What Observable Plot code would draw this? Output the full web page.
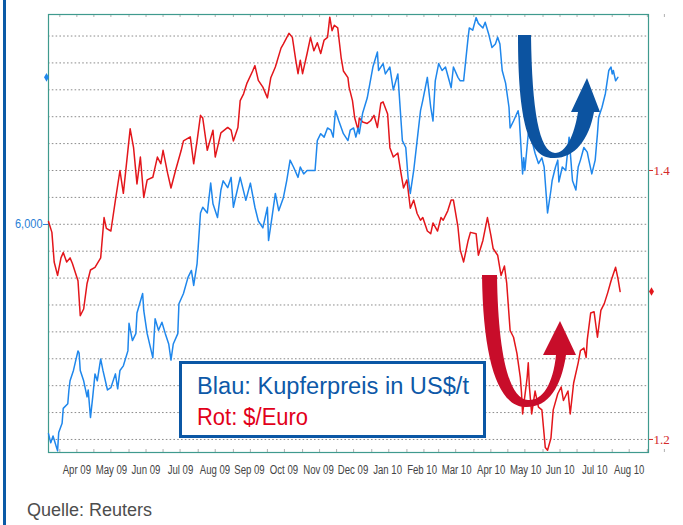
<!DOCTYPE html>
<html><head><meta charset="utf-8">
<script src="https://cdn.jsdelivr.net/npm/d3@7"></script>
<script src="https://cdn.jsdelivr.net/npm/@observablehq/plot@0.6"></script>
<style>
body{margin:0;background:#fff;}
#wrap{position:relative;width:683px;height:525px;overflow:hidden;font-family:"Liberation Sans",Arial,sans-serif;background:#fff;}
#bar{position:absolute;left:3px;top:0;width:3px;height:525px;background:#0b5aa6;}
#chart{position:absolute;left:0;top:0;}
#caption{position:absolute;left:27px;top:500px;font-size:18px;line-height:20px;color:#4d4d4d;}
</style></head><body>
<div id="wrap"><div id="chart"></div><div id="bar"></div><div id="caption">Quelle: Reuters</div></div>
<script>
// ---- DATA ----
// EUR/USD ($ per Euro), right axis
const euroSeries = [
["2009-03-22",1.362],["2009-03-25",1.354],["2009-03-27",1.332],["2009-03-30",1.322],["2009-04-02",1.335],["2009-04-04",1.339],["2009-04-07",1.332],["2009-04-10",1.335],["2009-04-12",1.331],["2009-04-17",1.318],["2009-04-19",1.292],["2009-04-22",1.297],["2009-04-25",1.316],["2009-04-28",1.326],
["2009-05-02",1.328],["2009-05-07",1.335],["2009-05-10",1.365],["2009-05-12",1.357],["2009-05-16",1.355],["2009-05-20",1.378],["2009-05-24",1.400],["2009-05-27",1.383],["2009-05-31",1.415],
["2009-06-02",1.431],["2009-06-05",1.417],["2009-06-08",1.390],["2009-06-11",1.410],["2009-06-14",1.380],["2009-06-17",1.393],["2009-06-22",1.395],["2009-06-26",1.410],["2009-06-29",1.405],
["2009-07-01",1.415],["2009-07-05",1.398],["2009-07-08",1.387],["2009-07-12",1.400],["2009-07-17",1.415],["2009-07-19",1.422],["2009-07-25",1.425],["2009-07-28",1.405],["2009-07-31",1.422],
["2009-08-03",1.441],["2009-08-05",1.439],["2009-08-09",1.415],["2009-08-14",1.430],["2009-08-16",1.410],["2009-08-21",1.428],["2009-08-27",1.432],["2009-08-30",1.430],
["2009-09-01",1.422],["2009-09-05",1.432],["2009-09-07",1.452],["2009-09-10",1.457],["2009-09-13",1.465],["2009-09-18",1.474],["2009-09-20",1.478],["2009-09-23",1.467],["2009-09-27",1.462],
["2009-10-01",1.454],["2009-10-04",1.469],["2009-10-08",1.477],["2009-10-13",1.491],["2009-10-15",1.494],["2009-10-20",1.502],["2009-10-23",1.499],["2009-10-26",1.482],["2009-10-28",1.472],["2009-10-30",1.482],
["2009-11-01",1.472],["2009-11-05",1.487],["2009-11-08",1.499],["2009-11-11",1.489],["2009-11-14",1.495],["2009-11-17",1.487],["2009-11-20",1.497],["2009-11-23",1.499],["2009-11-25",1.514],["2009-11-27",1.504],["2009-11-29",1.508],
["2009-12-02",1.506],["2009-12-05",1.484],["2009-12-07",1.474],["2009-12-11",1.469],["2009-12-12",1.462],["2009-12-15",1.452],["2009-12-17",1.439],["2009-12-20",1.430],["2009-12-21",1.439],["2009-12-24",1.436],["2009-12-28",1.435],["2009-12-31",1.437],
["2010-01-03",1.441],["2010-01-06",1.432],["2010-01-09",1.450],["2010-01-11",1.451],["2010-01-15",1.442],["2010-01-17",1.417],["2010-01-20",1.410],["2010-01-24",1.413],["2010-01-26",1.402],["2010-01-29",1.387],
["2010-02-01",1.393],["2010-02-04",1.372],["2010-02-07",1.378],["2010-02-10",1.368],["2010-02-13",1.363],["2010-02-15",1.365],["2010-02-19",1.355],["2010-02-22",1.353],["2010-02-24",1.361],["2010-02-28",1.355],
["2010-03-03",1.365],["2010-03-05",1.363],["2010-03-09",1.370],["2010-03-12",1.378],["2010-03-14",1.378],["2010-03-18",1.358],["2010-03-20",1.341],["2010-03-23",1.332],["2010-03-27",1.348],["2010-03-29",1.354],
["2010-04-03",1.353],["2010-04-05",1.337],["2010-04-09",1.348],["2010-04-13",1.365],["2010-04-16",1.352],["2010-04-18",1.342],["2010-04-22",1.337],["2010-04-25",1.322],["2010-04-28",1.329],["2010-04-30",1.316],
["2010-05-03",1.281],["2010-05-06",1.276],["2010-05-09",1.264],["2010-05-12",1.246],["2010-05-13",1.235],["2010-05-14",1.219],["2010-05-18",1.246],["2010-05-19",1.257],["2010-05-20",1.239],["2010-05-22",1.219],["2010-05-25",1.236],["2010-05-28",1.224],["2010-05-31",1.222],
["2010-06-03",1.194],["2010-06-05",1.192],["2010-06-08",1.201],["2010-06-10",1.222],["2010-06-14",1.234],["2010-06-17",1.239],["2010-06-19",1.229],["2010-06-23",1.236],["2010-06-25",1.219],["2010-06-28",1.242],
["2010-07-02",1.257],["2010-07-04",1.266],["2010-07-07",1.268],["2010-07-09",1.261],["2010-07-10",1.274],["2010-07-13",1.294],["2010-07-16",1.295],["2010-07-19",1.276],["2010-07-22",1.296],["2010-07-25",1.301],["2010-07-28",1.309],["2010-07-31",1.318],
["2010-08-02",1.323],["2010-08-04",1.328],["2010-08-06",1.320],["2010-08-08",1.310]
];
// Copper price in US$/t, left axis
const copperSeries = [
["2009-03-22",4180],["2009-03-24",4100],["2009-03-26",4160],["2009-03-30",4030],["2009-03-31",4190],["2009-04-03",4270],["2009-04-04",4400],["2009-04-08",4440],["2009-04-09",4560],["2009-04-10",4640],["2009-04-13",4730],["2009-04-17",4900],["2009-04-18",4880],["2009-04-19",4730],["2009-04-22",4640],["2009-04-25",4500],["2009-04-26",4560],["2009-04-28",4320],["2009-04-30",4500],
["2009-05-02",4700],["2009-05-04",4640],["2009-05-07",4830],["2009-05-09",4730],["2009-05-13",4560],["2009-05-16",4580],["2009-05-20",4700],["2009-05-22",4570],["2009-05-24",4730],["2009-05-27",4770],["2009-05-31",4900],
["2009-06-01",5140],["2009-06-04",4990],["2009-06-07",5050],["2009-06-08",5230],["2009-06-13",5400],["2009-06-14",5250],["2009-06-17",5050],["2009-06-22",4840],["2009-06-24",5180],["2009-06-27",5080],["2009-06-30",5150],
["2009-07-03",5050],["2009-07-06",4960],["2009-07-08",4820],["2009-07-10",4960],["2009-07-14",5050],["2009-07-15",5310],["2009-07-19",5400],["2009-07-23",5540],["2009-07-26",5600],["2009-07-28",5470],["2009-07-31",5660],
["2009-08-03",6100],["2009-08-05",6150],["2009-08-09",6100],["2009-08-12",6360],["2009-08-14",6180],["2009-08-18",6060],["2009-08-21",6300],["2009-08-23",6380],["2009-08-27",6320],["2009-08-30",6410],
["2009-09-01",6150],["2009-09-07",6410],["2009-09-12",6210],["2009-09-16",6360],["2009-09-20",6150],["2009-09-23",6030],["2009-09-27",5970],
["2009-10-01",6150],["2009-10-02",5860],["2009-10-05",6060],["2009-10-08",6270],["2009-10-11",6120],["2009-10-15",6230],["2009-10-18",6380],["2009-10-21",6560],["2009-10-24",6500],["2009-10-28",6410],["2009-10-30",6500],
["2009-11-02",6440],["2009-11-05",6470],["2009-11-12",6470],["2009-11-14",6730],["2009-11-17",6790],["2009-11-20",6760],["2009-11-23",6840],["2009-11-26",6820],["2009-11-28",6760],["2009-11-30",6990],
["2009-12-03",6900],["2009-12-07",6790],["2009-12-11",6730],["2009-12-13",6820],["2009-12-16",6840],["2009-12-18",6760],["2009-12-20",6840],["2009-12-21",6790],["2009-12-24",6970],["2009-12-28",7100],
["2010-01-02",7370],["2010-01-06",7500],["2010-01-07",7340],["2010-01-11",7400],["2010-01-13",7310],["2010-01-17",7370],["2010-01-20",7170],["2010-01-24",7310],["2010-01-26",7020],["2010-01-28",6730],["2010-01-31",6670],
["2010-02-02",6410],["2010-02-04",6270],["2010-02-07",6470],["2010-02-10",6730],["2010-02-13",6990],["2010-02-15",7080],["2010-02-19",7280],["2010-02-22",7020],["2010-02-24",6900],["2010-02-26",7250],
["2010-03-01",7400],["2010-03-04",7340],["2010-03-07",7370],["2010-03-12",7190],["2010-03-14",7370],["2010-03-18",7280],["2010-03-20",7250],["2010-03-23",7250],["2010-03-27",7630],["2010-03-28",7710],["2010-03-31",7690],
["2010-04-03",7800],["2010-04-05",7750],["2010-04-09",7710],["2010-04-11",7760],["2010-04-14",7660],["2010-04-17",7540],["2010-04-20",7570],["2010-04-22",7630],["2010-04-24",7570],["2010-04-26",7340],["2010-04-29",7230],
["2010-05-02",7020],["2010-05-03",6840],["2010-05-06",6900],["2010-05-10",6990],["2010-05-11",6930],["2010-05-14",6440],["2010-05-15",6580],["2010-05-16",6470],["2010-05-19",6790],["2010-05-23",6700],["2010-05-25",6620],["2010-05-28",6530],["2010-05-31",6580],
["2010-06-02",6500],["2010-06-05",6100],["2010-06-08",6300],["2010-06-09",6380],["2010-06-12",6500],["2010-06-14",6560],["2010-06-15",6370],["2010-06-18",6500],["2010-06-21",6470],["2010-06-24",6760],["2010-06-27",6380],["2010-06-30",6300],
["2010-07-02",6500],["2010-07-04",6560],["2010-07-07",6670],["2010-07-10",6630],["2010-07-11",6580],["2010-07-14",6440],["2010-07-17",6560],["2010-07-19",6790],["2010-07-20",6930],["2010-07-23",7020],["2010-07-26",7140],["2010-07-29",7340],["2010-07-31",7370],
["2010-08-01",7310],["2010-08-02",7340],["2010-08-04",7250],["2010-08-06",7280]
];
const monthLabels = ["Apr 09","May 09","Jun 09","Jul 09","Aug 09","Sep 09","Oct 09","Nov 09","Dec 09","Jan 10","Feb 10","Mar 10","Apr 10","May 10","Jun 10","Jul 10","Aug 10"];
const leftTicks = [6000];
const rightTicks = [1.4, 1.2];
const gridValues = [1.20,1.22,1.24,1.26,1.28,1.30,1.32,1.34,1.36,1.38,1.40,1.42,1.44,1.46,1.48,1.50];
const xDomain = ["2009-03-22","2010-09-02"];
const yDomain = [1.1903, 1.516];       // $/Euro (right axis)
const copperDomain = [4016, 7827];     // US$/t (left axis), same vertical extent

// ---- styles ----
const lineBlue = "#1f87ec", lineRed = "#e3161b";
const axisBlue = "#2a7fd6", axisRed = "#d32a2a";
const arrowBlue = "#0c53a0", arrowRed = "#c80d2a";

const parse = d3.utcParse("%Y-%m-%d");
const euro = euroSeries.map(([d, v]) => ({date: parse(d), value: v}));
const copper = copperSeries.map(([d, v]) => ({date: parse(d), value: v}));
const copperToY = d3.scaleLinear().domain(copperDomain).range(yDomain);
const x0 = parse(xDomain[0]), x1 = parse(xDomain[1]);
const monthStarts = d3.utcMonths(parse("2009-04-01"), x1);
const tickDates = monthStarts.flatMap(m => [m, d3.utcDay.offset(m, 15)]);
// labels evenly spaced, one average month apart, starting mid-April 2009
const avgMonthMs = 365.25 / 12 * 864e5;
const firstLabel = parse("2009-04-16");
const labelDates = monthLabels.map((_, i) => new Date(+firstLabel + i * avgMonthMs));
const tickLen = 3 / 1345;

const chart = Plot.plot({
  width: 683, height: 490,
  marginLeft: 48, marginRight: 35, marginTop: 14, marginBottom: 38,
  style: {fontFamily: "Liberation Sans, Arial, sans-serif", background: "transparent", overflow: "visible"},
  x: {type: "utc", domain: [x0, x1], axis: null},
  y: {domain: yDomain, axis: null},
  marks: [
    Plot.ruleY(gridValues, {stroke: "#8c8c8c", strokeDasharray: "1.6,2.2", strokeWidth: 1}),
    Plot.ruleX(tickDates, {x: d => d, y1: yDomain[1], y2: yDomain[1] - tickLen, stroke: "#b0b0b0"}),
    Plot.ruleX(tickDates, {x: d => d, y1: yDomain[0], y2: yDomain[0] + tickLen, stroke: "#b0b0b0"}),
    Plot.frame({stroke: "#3f9a8e", strokeWidth: 1.2}),
    Plot.line(euro, {x: "date", y: "value", stroke: lineRed, strokeWidth: 1.5}),
    Plot.line(copper, {x: "date", y: d => copperToY(d.value), stroke: lineBlue, strokeWidth: 1.5}),
    Plot.text(monthLabels, {x: (d, i) => labelDates[i], frameAnchor: "bottom", dy: 21, text: d => d, fill: "#444", fontSize: 12, className: "mlab"}),
    Plot.axisY(leftTicks.map(v => copperToY(v)), {anchor: "left", tickSize: 5, tickPadding: 1, tickFormat: () => d3.format(",")(leftTicks[0]), color: axisBlue, fontSize: 12.5, label: null, className: "lax"}),
    Plot.axisY(rightTicks, {anchor: "right", tickSize: 4, tickPadding: 1, tickFormat: d => d.toFixed(1), color: axisRed, fontSize: 13, fontFamily: "Liberation Serif, serif", label: null}),
    Plot.dot([copper[copper.length - 1]], {y: d => copperToY(d.value), frameAnchor: "left", dx: -2, symbol: "diamond", r: 2.6, fill: lineBlue}),
    Plot.dot([euro[euro.length - 1]], {y: "value", frameAnchor: "right", dx: 3, symbol: "diamond", r: 2.6, fill: lineRed})
  ]
});
document.getElementById("chart").appendChild(chart);

const svg = d3.select(chart);
// condensed look for month labels
svg.selectAll(".mlab text").each(function() {
  const w = this.getComputedTextLength();
  this.setAttribute("textLength", (w * 0.8).toFixed(1));
  this.setAttribute("lengthAdjust", "spacingAndGlyphs");
});
svg.selectAll(".lax text").each(function() {
  const w = this.getComputedTextLength();
  this.setAttribute("textLength", (w * 0.88).toFixed(1));
  this.setAttribute("lengthAdjust", "spacingAndGlyphs");
});

// annotations: U-arrows
const ann = svg.append("g");
ann.append("path")
  .attr("d", "M518,35 L531,35 C532,110 539,152 555,153 C566,153 574,136 578,112 L571,112 L587,78 L600,112 L594,112 C589,140 574,159 553,158 C528,158 518,120 518,35 Z")
  .attr("fill", arrowBlue);
ann.append("path")
  .attr("d", "M482,275 L497,275 C498,350 508,399 528,400 C542,401 553,385 556,355 L543,355 L560,321 L576,355 L566,355 C561,388 548,408 525,407 C498,406 483,360 482,275 Z")
  .attr("fill", arrowRed);

// legend box
const lg = svg.append("g").attr("text-anchor", "start").attr("font-family", "Liberation Sans, Arial, sans-serif");
lg.append("rect").attr("x", 180.5).attr("y", 362.5).attr("width", 304).attr("height", 74)
  .attr("fill", "#fff").attr("stroke", "#0b57a5").attr("stroke-width", 3);
lg.append("text").attr("x", 197).attr("y", 394).attr("fill", "#0d59a8").attr("text-anchor", "start")
  .attr("font-size", 23).attr("textLength", 272).attr("lengthAdjust", "spacingAndGlyphs")
  .text("Blau: Kupferpreis in US$/t");
lg.append("text").attr("x", 197).attr("y", 425).attr("fill", "#e2001a").attr("text-anchor", "start")
  .attr("font-size", 23).attr("textLength", 111).attr("lengthAdjust", "spacingAndGlyphs")
  .text("Rot: $/Euro");
</script>
</body></html>
